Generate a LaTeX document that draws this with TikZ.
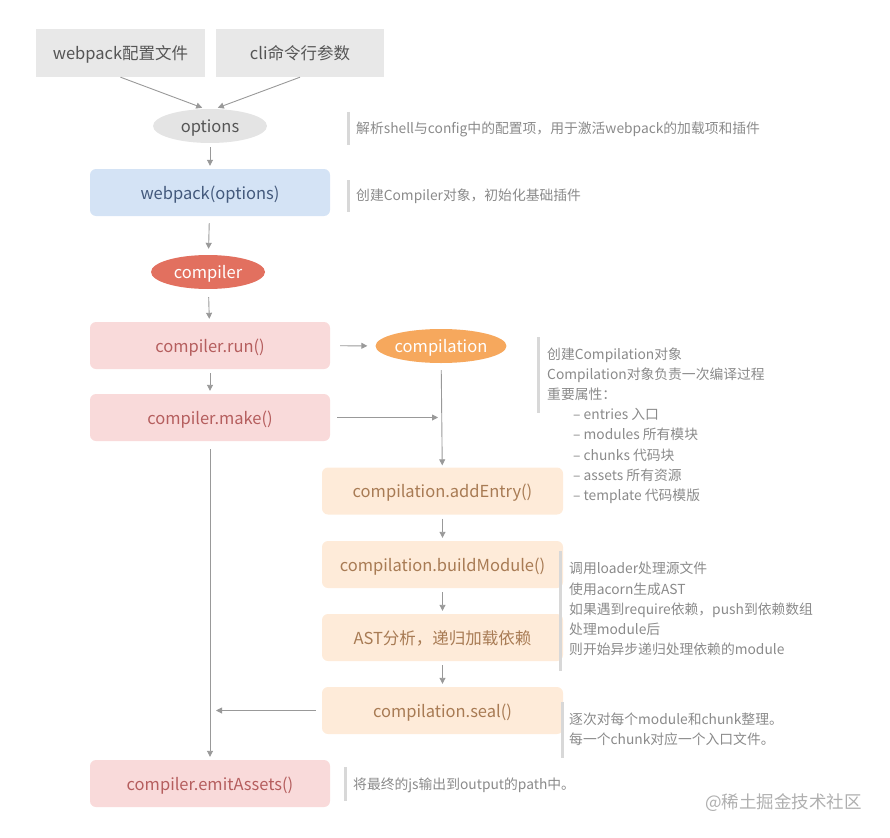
\documentclass[tikz,border=0pt]{standalone}
\usepackage{fontspec}
\setmainfont{Noto Sans CJK SC}
\usetikzlibrary{arrows.meta,shapes.geometric}
\definecolor{arrowc}{HTML}{999999}
\definecolor{grayfill}{HTML}{E8E8E8}
\definecolor{graytext}{HTML}{555555}
\definecolor{ellgray}{HTML}{E4E4E4}
\definecolor{bluefill}{HTML}{D4E3F5}
\definecolor{bluetext}{HTML}{43597C}
\definecolor{redfill}{HTML}{E2705F}
\definecolor{pinkfill}{HTML}{F9DADA}
\definecolor{pinktext}{HTML}{B55E5E}
\definecolor{orangefill}{HTML}{F6A85D}
\definecolor{peachfill}{HTML}{FEEBD9}
\definecolor{peachtext}{HTML}{A87B54}
\definecolor{barc}{HTML}{D8D8D8}
\definecolor{notec}{HTML}{8A8A8A}
\definecolor{markc}{HTML}{AFAFAF}
\newcommand\boxfont{\fontsize{16.5}{19.5}\selectfont}
\newcommand\notefont{\fontsize{13.8}{20.2}\selectfont}
\tikzset{
  arr/.style={draw=arrowc, line width=0.9pt, -{Triangle[length=6pt,width=6pt]}, shorten <=4pt, shorten >=3pt},
  bar/.style={draw=barc, line width=3pt},
  txtpos/.style={text height=14.5pt, text depth=1pt},
  graybox/.style={rectangle, fill=grayfill, minimum height=48pt, text=graytext, font=\boxfont, inner sep=0pt, txtpos},
  flowbox/.style={rectangle, rounded corners=6pt, minimum width=240pt, minimum height=47pt, font=\boxfont, inner sep=0pt, txtpos},
  bluebox/.style={flowbox, fill=bluefill, text=bluetext},
  pinkbox/.style={flowbox, fill=pinkfill, text=pinktext},
  peachbox/.style={flowbox, fill=peachfill, text=peachtext, minimum width=241pt},
  oval/.style={ellipse, minimum width=114pt, minimum height=34pt, inner sep=0pt, font=\boxfont, txtpos},
  note/.style={anchor=west, align=left, inner sep=0pt, text=notec, font=\notefont, yshift=-1.5pt},
}
\begin{document}
\begin{tikzpicture}[x=1pt,y=-1pt]
\useasboundingbox (0,0) rectangle (890,837);
% top inputs
\node[graybox, minimum width=169pt] (cfg) at (120.5,53) {webpack配置文件};
\node[graybox, minimum width=168pt] (cli) at (300,53) {cli命令行参数};
\node[oval, fill=ellgray, text=graytext] (opt) at (210,126) {options};
\node[bluebox] (wp) at (210,192.5) {webpack(options)};
\node[oval, fill=redfill, text=white] (cmp) at (208,272) {compiler};
\node[pinkbox] (run) at (210,345.5) {compiler.run()};
\node[pinkbox] (make) at (210,417.5) {compiler.make()};
\node[oval, fill=orangefill, text=white, minimum width=116pt] (cpl) at (441,346) {compilation};
\node[peachbox] (add) at (442.5,491) {compilation.addEntry()};
\node[peachbox] (build) at (442.5,564.5) {compilation.buildModule()};
\node[peachbox] (ast) at (442.5,637.5) {AST分析，递归加载依赖};
\node[peachbox] (seal) at (442.5,710.5) {compilation.seal()};
\node[pinkbox] (emit) at (210,783.5) {compiler.emitAssets()};
\coordinate (joinA) at (cpl.south |- make.east);
\coordinate (joinB) at (make.south |- seal.west);
% connectors
\draw[arr, shorten <=0pt] (cfg.south) -- ([xshift=-5pt]opt.north);
\draw[arr, shorten <=0pt] (cli.south) -- ([xshift=5pt]opt.north);
\draw[arr] (opt) -- (wp);
\draw[arr, shorten <=7pt, shorten >=6pt] (wp) -- (cmp);
\draw[arr, shorten <=8pt] (cmp) -- (run);
\draw[arr] (run) -- (make);
\draw[arr, shorten <=10pt, shorten >=8pt] (run) -- (cpl);
\draw[arr, shorten <=7pt, shorten >=2pt] (cpl) -- (add);
\draw[arr, shorten <=7pt] (make.east) -- (joinA);
\draw[arr] (add) -- (build);
\draw[arr] (build) -- (ast);
\draw[arr] (ast) -- (seal);
\draw[arr, shorten <=6pt, shorten >=6pt] (seal.west) -- (joinB);
\draw[arr, shorten <=8pt, shorten >=3pt] (make) -- (emit);
% notes
\draw[bar] (348,112) -- (348,145);
\node[note] (n1) at (356,128) {解析shell与config中的配置项，用于激活webpack的加载项和插件};
\draw[bar] (348,180) -- (348,212);
\node[note] (n2) at (356,195) {创建Compiler对象，初始化基础插件};
\draw[bar] (538,337) -- (538,413);
\node[note] (n3) at (547,373) {创建Compilation对象\\Compilation对象负责一次编译过程\\重要属性：};
\node[note] (n3b) at (573,454.5) {– entries 入口\\– modules 所有模块\\– chunks 代码块\\– assets 所有资源\\– template 代码模版};
\draw[bar] (560,551) -- (560,671);
\node[note] (n4) at (569,607.5) {调用loader处理源文件\\使用acorn生成AST\\如果遇到require依赖，push到依赖数组\\处理module后\\则开始异步递归处理依赖的module};
\draw[bar] (562,702) -- (562,758);
\node[note] (n5) at (569,728) {逐次对每个module和chunk整理。\\每一个chunk对应一个入口文件。};
\draw[bar] (345,767) -- (345,801);
\node[note] (n6) at (353,784) {将最终的js输出到output的path中。};
\node[anchor=west, inner sep=0pt, text=markc, font=\fontsize{17.5}{20}\selectfont] (mark) at (705,803) {@稀土掘金技术社区};
\end{tikzpicture}
\end{document}
